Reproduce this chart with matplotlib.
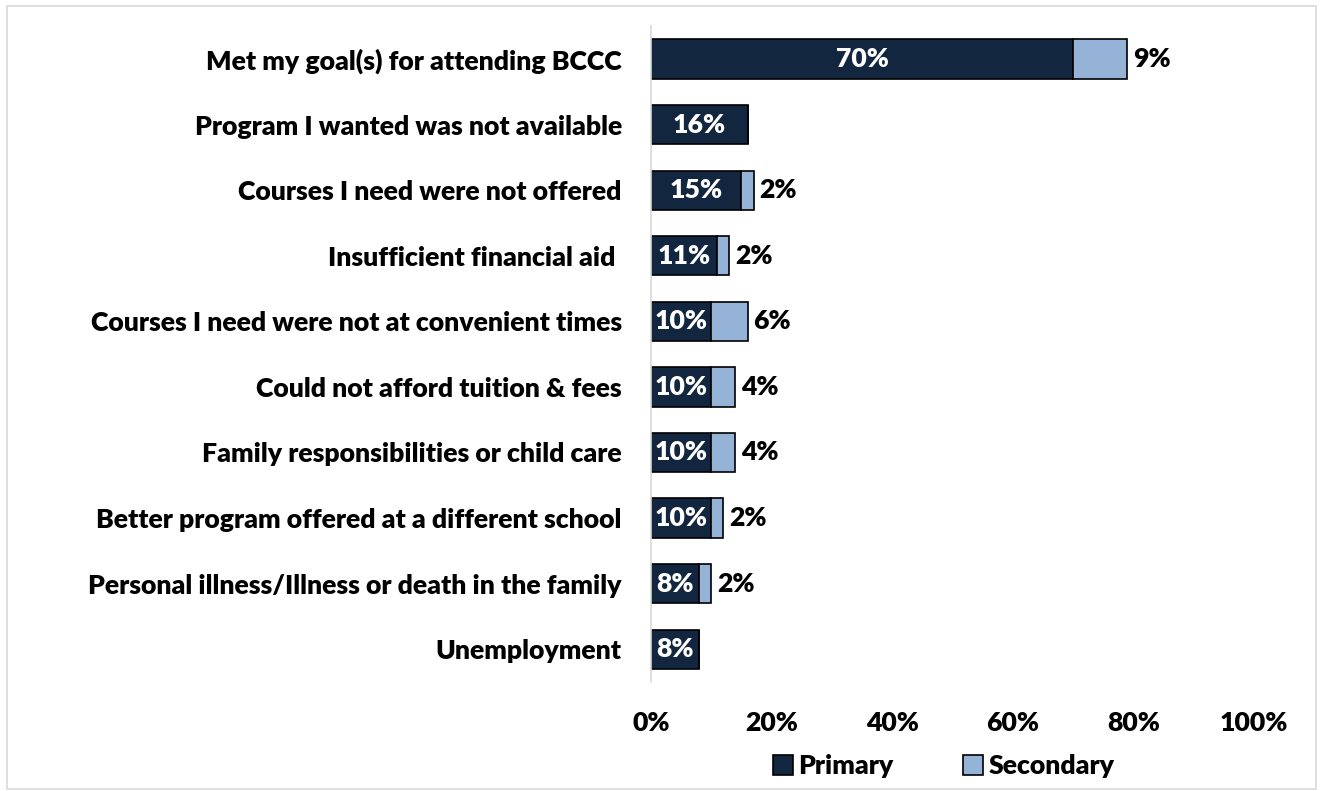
import matplotlib
matplotlib.use("Agg")
import matplotlib.pyplot as plt
from matplotlib.patches import Rectangle

plt.rcParams['font.family'] = ['Lato', 'DejaVu Sans']
plt.rcParams['font.weight'] = 'heavy'

reasons = [
    "Met my goal(s) for attending BCCC",
    "Program I wanted was not available",
    "Courses I need were not offered",
    "Insufficient financial aid ",
    "Courses I need were not at convenient times",
    "Could not afford tuition & fees",
    "Family responsibilities or child care",
    "Better program offered at a different school",
    "Personal illness/Illness or death in the family",
    "Unemployment",
]
primary = [70, 16, 15, 11, 10, 10, 10, 10, 8, 8]
secondary = [9, 0, 2, 2, 6, 4, 4, 2, 2, 0]
xticks = [0, 20, 40, 60, 80, 100]

navy = '#13263f'
light = '#95b3d7'
fs = 19.2
wt = 'heavy'

fig = plt.figure(figsize=(13.2, 7.91), dpi=100)
ax = fig.add_axes([0.4932, 0.1378, 0.4568, 0.829])

y = list(range(len(reasons)))
b1 = ax.barh(y, primary, height=0.6, color=navy, edgecolor='black',
             linewidth=1.2, label='Primary')
b2 = ax.barh(y, secondary, left=primary, height=0.6, color=light,
             edgecolor='black', linewidth=1.2, label='Secondary')

for i in y:
    ax.text(primary[i] / 2, i, f"{primary[i]}%", ha='center', va='center',
            color='white', fontsize=fs, fontweight=wt)
    if secondary[i] > 0:
        ax.annotate(f"{secondary[i]}%", (primary[i] + secondary[i], i),
                    xytext=(4, 0), textcoords='offset points',
                    ha='left', va='center', color='black',
                    fontsize=fs, fontweight=wt)

ax.set_xlim(0, 100)
ax.set_ylim(len(reasons) - 0.5, -0.5)
ax.set_yticks(y)
ax.set_yticklabels(reasons, fontsize=fs, fontweight=wt)
ax.set_xticks(xticks)
ax.set_xticklabels([f"{t}%" for t in xticks], fontsize=fs, fontweight=wt)
ax.tick_params(axis='y', length=0, pad=21)
ax.tick_params(axis='x', length=0, pad=21)

for side in ['top', 'right', 'bottom']:
    ax.spines[side].set_visible(False)
ax.spines['left'].set_color('#d9d9d9')
ax.spines['left'].set_linewidth(1.2)

fig.legend(handles=[b1, b2], loc='center', bbox_to_anchor=(0.715, 0.031),
           ncol=2, frameon=False, prop={'size': fs, 'weight': wt},
           handlelength=0.75, handleheight=0.75, handletextpad=0.2,
           columnspacing=2.6)

# thin grey frame around the whole chart
fig.patches.append(Rectangle((0.0053, 0.003), 0.9917, 0.9895,
                             transform=fig.transFigure, fill=False,
                             edgecolor='#d9d9d9', linewidth=1.2))

fig.savefig('out.png', dpi=100)
